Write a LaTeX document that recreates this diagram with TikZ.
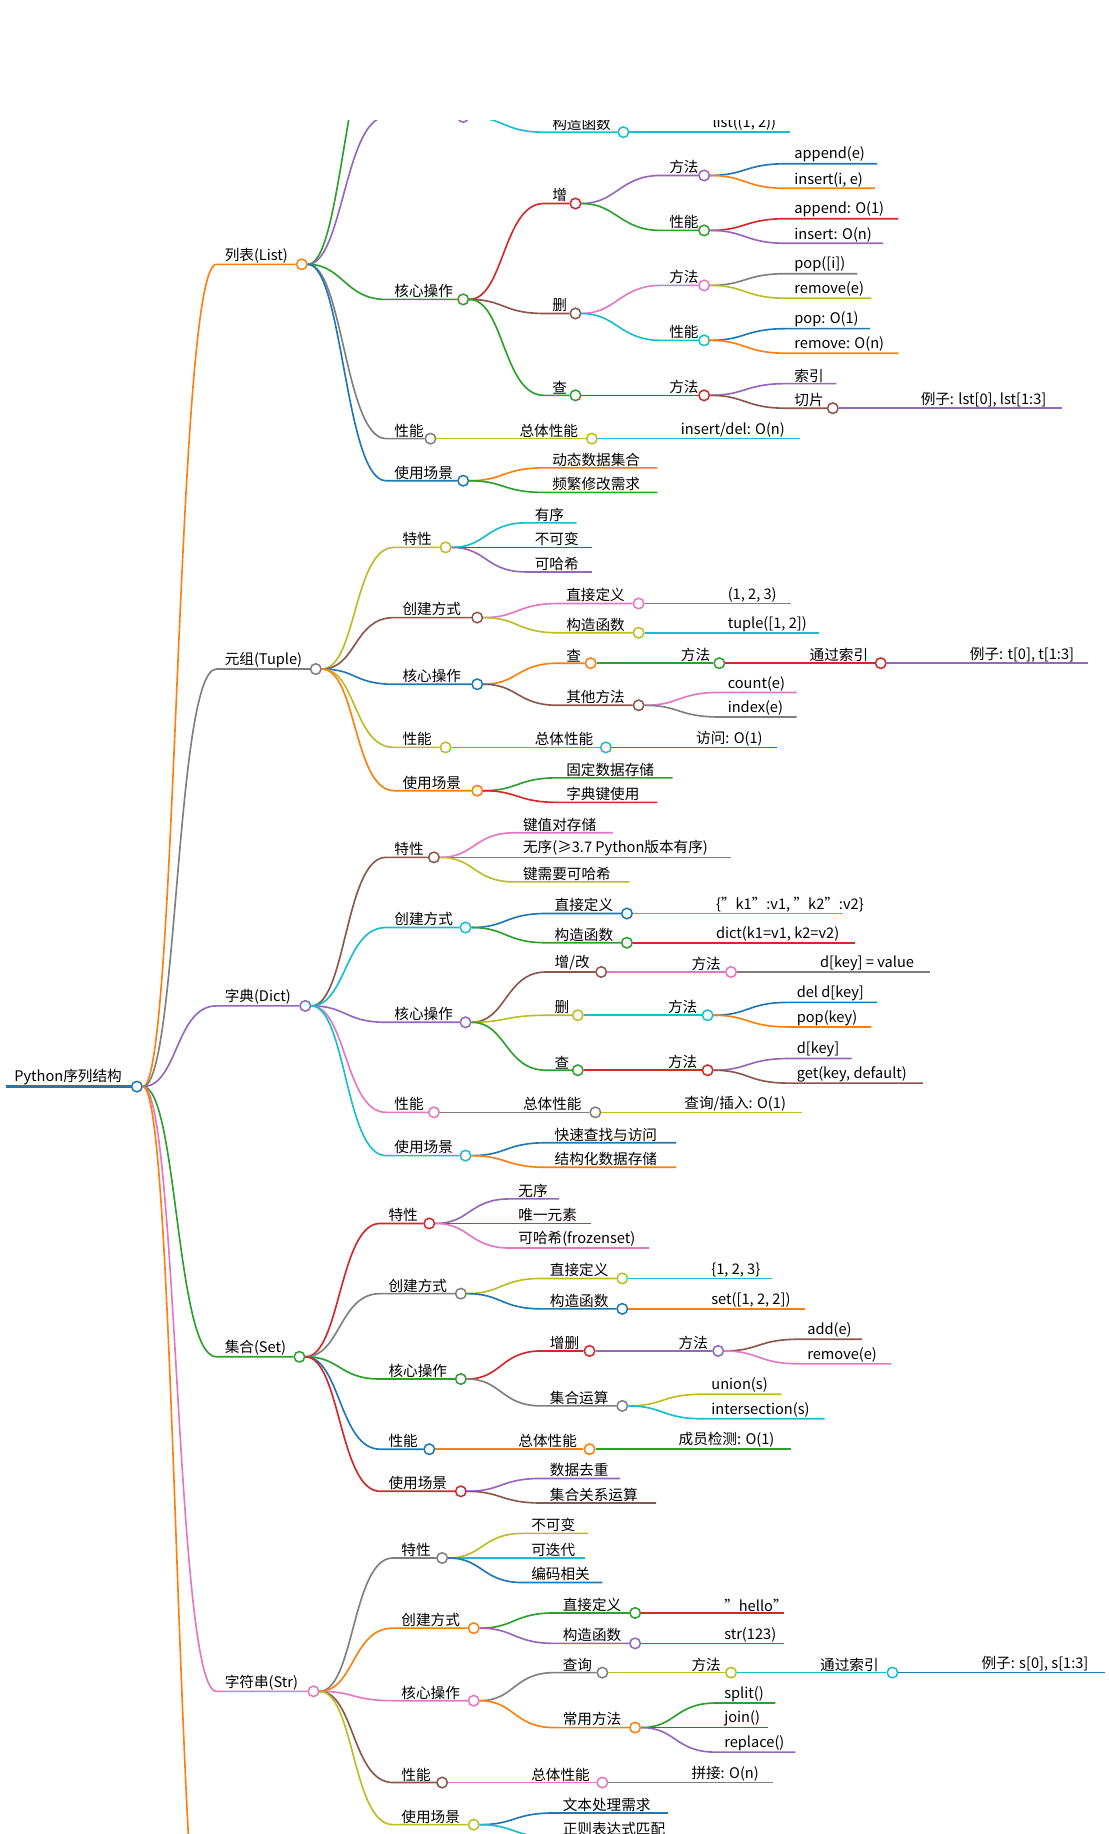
\documentclass[tikz,border=0pt]{standalone}
\usepackage{fontspec}
\setmainfont{Noto Sans CJK SC}
\usetikzlibrary{positioning}

\definecolor{cblue}{HTML}{1F77B4}
\definecolor{corange}{HTML}{FF7F0E}
\definecolor{cgreen}{HTML}{2CA02C}
\definecolor{cred}{HTML}{D62728}
\definecolor{cpurple}{HTML}{9467BD}
\definecolor{cbrown}{HTML}{8C564B}
\definecolor{cpink}{HTML}{E377C2}
\definecolor{cgray}{HTML}{7F7F7F}
\definecolor{colive}{HTML}{BCBD22}
\definecolor{ccyan}{HTML}{17BECF}

\tikzset{
  branch/.style={line width=1.4pt},
  dot/.style={circle,fill=white,line width=1.3pt,inner sep=0pt,minimum size=9pt},
  label/.style={anchor=south west,inner sep=1pt,font=\fontsize{12.5}{13}\selectfont}
}

% inner node: parent, name, colour, line start, line end, y, text
\newcommand\mmnode[7]{%
  \coordinate (#2-s) at (#4,#6);
  \node[dot,draw=#3] (#2) at (#5,#6) {};
  \draw[branch,#3] (#1) .. controls +(35,0) and +(-35,0) .. (#2-s) -- (#2);
  \node[label] (#2-t) at ([xshift=6pt]#2-s) {#7};}
% leaf: parent, name, colour, line start, line end, y, text
\newcommand\mmleaf[7]{%
  \coordinate (#2-s) at (#4,#6);
  \coordinate (#2) at (#5,#6);
  \draw[branch,#3] (#1) .. controls +(35,0) and +(-35,0) .. (#2-s) -- (#2);
  \node[label] (#2-t) at ([xshift=6pt]#2-s) {#7};}

\begin{document}
\begin{tikzpicture}[x=1pt,y=-1pt]
\useasboundingbox[fill=white] (0,0) rectangle (948,1568);
\clip (0,103) rectangle (948,1568);

% root
\coordinate (root-s) at (5,929);
\node[dot,draw=cblue] (root) at (117,929) {};
\draw[cblue,line width=2.6pt] (root-s) -- (root);
\node[label] (root-t) at ([xshift=6pt]root-s) {Python序列结构};

% level 1
\mmnode{root}{list}{corange}{185}{258}{226}{列表(List)}
\mmnode{root}{tuple}{cgray}{185}{270}{572}{元组(Tuple)}
\mmnode{root}{dict}{cpurple}{185}{261}{860}{字典(Dict)}
\mmnode{root}{set}{cgreen}{185}{256}{1160}{集合(Set)}
\mmnode{root}{str}{cpink}{185}{268}{1446}{字符串(Str)}
\mmnode{root}{more}{corange}{185}{258}{1760}{}

% list
\mmnode{list}{l1}{cgreen}{330}{371}{20}{特性}
\mmnode{list}{l2}{cpurple}{330}{396}{100}{创建方式}
\mmnode{l2}{l21}{cpink}{465}{533}{75}{直接定义}
\mmleaf{l21}{l21a}{cgray}{602}{660}{75}{[1, 2]}
\mmnode{l2}{l22}{ccyan}{465}{533}{113}{构造函数}
\mmleaf{l22}{l22a}{ccyan}{602}{675}{113}{list((1, 2))}
\mmnode{list}{l3}{cgreen}{330}{396}{256}{核心操作}
\mmnode{l3}{l31}{cred}{465}{492}{174}{增}
\mmnode{l31}{l311}{cpurple}{565}{602}{150}{方法}
\mmleaf{l311}{l311a}{cblue}{672}{750}{140}{append(e)}
\mmleaf{l311}{l311b}{corange}{672}{748}{161}{insert(i, e)}
\mmnode{l31}{l312}{cgreen}{565}{602}{197}{性能}
\mmleaf{l312}{l312a}{cred}{672}{768}{187}{append: O(1)}
\mmleaf{l312}{l312b}{cpurple}{672}{755}{208}{insert: O(n)}
\mmnode{l3}{l32}{cbrown}{465}{492}{268}{删}
\mmnode{l32}{l321}{cpink}{565}{602}{244}{方法}
\mmleaf{l321}{l321a}{cgray}{672}{733}{234}{pop([i])}
\mmleaf{l321}{l321b}{colive}{672}{745}{255}{remove(e)}
\mmnode{l32}{l322}{ccyan}{565}{602}{291}{性能}
\mmleaf{l322}{l322a}{cblue}{672}{744}{281}{pop: O(1)}
\mmleaf{l322}{l322b}{corange}{672}{768}{302}{remove: O(n)}
\mmnode{l3}{l33}{cgreen}{465}{492}{338}{查}
\mmnode{l33}{l331}{cred}{565}{602}{338}{方法}
\mmleaf{l331}{l331a}{cpurple}{672}{715}{328}{索引}
\mmnode{l331}{l331b}{cbrown}{672}{712}{349}{切片}
\mmleaf{l331b}{l331c}{cpurple}{780}{908}{349}{例子: lst[0], lst[1:3]}
\mmnode{list}{l4}{cgray}{330}{368}{375}{性能}
\mmnode{l4}{l41}{colive}{437}{506}{375}{总体性能}
\mmleaf{l41}{l41a}{ccyan}{575}{684}{375}{insert/del: O(n)}
\mmnode{list}{l5}{cblue}{330}{396}{411}{使用场景}
\mmleaf{l5}{l51}{corange}{465}{562}{400}{动态数据集合}
\mmleaf{l5}{l52}{cgreen}{465}{562}{421}{频繁修改需求}

% tuple
\mmnode{tuple}{t1}{colive}{337}{381}{468}{特性}
\mmleaf{t1}{t11}{ccyan}{450}{493}{447}{有序}
\mmleaf{t1}{t12}{cred}{450}{506}{468}{不可变}
\mmleaf{t1}{t13}{cpurple}{450}{506}{489}{可哈希}
\mmnode{tuple}{t2}{cbrown}{337}{408}{528}{创建方式}
\mmnode{t2}{t21}{cpink}{477}{546}{516}{直接定义}
\mmleaf{t21}{t21a}{cgray}{615}{676}{516}{(1, 2, 3)}
\mmnode{t2}{t22}{colive}{477}{546}{541}{构造函数}
\mmleaf{t22}{t22a}{ccyan}{615}{700}{541}{tuple([1, 2])}
\mmnode{tuple}{t3}{cblue}{337}{408}{585}{核心操作}
\mmnode{t3}{t31}{corange}{477}{505}{567}{查}
\mmnode{t31}{t311}{cgreen}{575}{615}{567}{方法}
\mmnode{t311}{t312}{cred}{685}{753}{567}{通过索引}
\mmleaf{t312}{t313}{cpurple}{822}{930}{567}{例子: t[0], t[1:3]}
\mmnode{t3}{t32}{cbrown}{477}{546}{603}{其他方法}
\mmleaf{t32}{t32a}{cpink}{615}{681}{592}{count(e)}
\mmleaf{t32}{t32b}{cgray}{615}{681}{613}{index(e)}
\mmnode{tuple}{t4}{colive}{337}{381}{639}{性能}
\mmnode{t4}{t41}{ccyan}{450}{518}{639}{总体性能}
\mmleaf{t41}{t41a}{cblue}{588}{664}{639}{访问: O(1)}
\mmnode{tuple}{t5}{corange}{337}{408}{676}{使用场景}
\mmleaf{t5}{t51}{cgreen}{477}{575}{665}{固定数据存储}
\mmleaf{t5}{t52}{cred}{477}{562}{686}{字典键使用}

% dict
\mmnode{dict}{d1}{cbrown}{330}{371}{733}{特性}
\mmleaf{d1}{d11}{cpink}{440}{524}{712}{键值对存储}
\mmleaf{d1}{d12}{cgray}{440}{625}{733}{无序(≥3.7 Python版本有序)}
\mmleaf{d1}{d13}{colive}{440}{538}{754}{键需要可哈希}
\mmnode{dict}{d2}{ccyan}{330}{398}{793}{创建方式}
\mmnode{d2}{d21}{cblue}{467}{536}{781}{直接定义}
\mmleaf{d21}{d21a}{corange}{605}{721}{781}{\{"k1":v1, "k2":v2\}}
\mmnode{d2}{d22}{cgreen}{467}{536}{806}{构造函数}
\mmleaf{d22}{d22a}{cred}{605}{731}{806}{dict(k1=v1, k2=v2)}
\mmnode{dict}{d3}{cpurple}{330}{398}{874}{核心操作}
\mmnode{d3}{d31}{cbrown}{467}{514}{831}{增/改}
\mmnode{d31}{d311}{cpink}{584}{625}{831}{方法}
\mmleaf{d311}{d311a}{cgray}{694}{795}{831}{d[key] = value}
\mmnode{d3}{d32}{colive}{467}{494}{868}{删}
\mmnode{d32}{d321}{ccyan}{564}{605}{868}{方法}
\mmleaf{d321}{d321a}{cblue}{674}{750}{857}{del d[key]}
\mmleaf{d321}{d321b}{corange}{674}{745}{878}{pop(key)}
\mmnode{d3}{d33}{cgreen}{467}{494}{915}{查}
\mmnode{d33}{d331}{cred}{564}{605}{915}{方法}
\mmleaf{d331}{d331a}{cpurple}{674}{728}{905}{d[key]}
\mmleaf{d331}{d331b}{cbrown}{674}{789}{926}{get(key, default)}
\mmnode{dict}{d4}{cpink}{330}{371}{951}{性能}
\mmnode{d4}{d41}{cgray}{440}{509}{951}{总体性能}
\mmleaf{d41}{d41a}{colive}{578}{686}{951}{查询/插入: O(1)}
\mmnode{dict}{d5}{ccyan}{330}{398}{988}{使用场景}
\mmleaf{d5}{d51}{cblue}{467}{578}{977}{快速查找与访问}
\mmleaf{d5}{d52}{corange}{467}{578}{998}{结构化数据存储}

% set
\mmnode{set}{s1}{cred}{325}{367}{1046}{特性}
\mmleaf{s1}{s11}{cpurple}{436}{478}{1025}{无序}
\mmleaf{s1}{s12}{cbrown}{436}{505}{1046}{唯一元素}
\mmleaf{s1}{s13}{cpink}{436}{555}{1067}{可哈希(frozenset)}
\mmnode{set}{s2}{cgray}{325}{394}{1106}{创建方式}
\mmnode{s2}{s21}{colive}{463}{532}{1093}{直接定义}
\mmleaf{s21}{s21a}{ccyan}{601}{660}{1093}{\{1, 2, 3\}}
\mmnode{s2}{s22}{cblue}{463}{532}{1119}{构造函数}
\mmleaf{s22}{s22a}{corange}{601}{688}{1119}{set([1, 2, 2])}
\mmnode{set}{s3}{cgreen}{325}{394}{1179}{核心操作}
\mmnode{s3}{s31}{cred}{463}{504}{1155}{增删}
\mmnode{s31}{s311}{cpurple}{573}{614}{1155}{方法}
\mmleaf{s311}{s311a}{cbrown}{683}{737}{1145}{add(e)}
\mmleaf{s311}{s311b}{cpink}{683}{762}{1166}{remove(e)}
\mmnode{s3}{s32}{cgray}{463}{532}{1202}{集合运算}
\mmleaf{s32}{s32a}{colive}{601}{668}{1192}{union(s)}
\mmleaf{s32}{s32b}{ccyan}{601}{705}{1213}{intersection(s)}
\mmnode{set}{s4}{cblue}{325}{367}{1239}{性能}
\mmnode{s4}{s41}{corange}{436}{504}{1239}{总体性能}
\mmleaf{s41}{s41a}{cgreen}{573}{676}{1239}{成员检测: O(1)}
\mmnode{set}{s5}{cred}{325}{394}{1275}{使用场景}
\mmleaf{s5}{s51}{cpurple}{463}{530}{1264}{数据去重}
\mmleaf{s5}{s52}{cbrown}{463}{561}{1285}{集合关系运算}

% str
\mmnode{str}{r1}{cgray}{336}{378}{1332}{特性}
\mmleaf{r1}{r11}{colive}{447}{503}{1311}{不可变}
\mmleaf{r1}{r12}{ccyan}{447}{500}{1332}{可迭代}
\mmleaf{r1}{r13}{cblue}{447}{515}{1353}{编码相关}
\mmnode{str}{r2}{corange}{336}{405}{1392}{创建方式}
\mmnode{r2}{r21}{cgreen}{474}{543}{1379}{直接定义}
\mmleaf{r21}{r21a}{cred}{612}{670}{1379}{"hello"}
\mmnode{r2}{r22}{cpurple}{474}{543}{1405}{构造函数}
\mmleaf{r22}{r22a}{cbrown}{612}{670}{1405}{str(123)}
\mmnode{str}{r3}{cpink}{336}{405}{1454}{核心操作}
\mmnode{r3}{r31}{cgray}{474}{515}{1430}{查询}
\mmnode{r31}{r311}{colive}{584}{625}{1430}{方法}
\mmnode{r311}{r312}{ccyan}{694}{763}{1430}{通过索引}
\mmleaf{r312}{r313}{cblue}{832}{945}{1430}{例子: s[0], s[1:3]}
\mmnode{r3}{r32}{corange}{474}{543}{1477}{常用方法}
\mmleaf{r32}{r32a}{cgreen}{612}{663}{1456}{split()}
\mmleaf{r32}{r32b}{cred}{612}{657}{1477}{join()}
\mmleaf{r32}{r32c}{cpurple}{612}{680}{1498}{replace()}
\mmnode{str}{r4}{cbrown}{336}{378}{1524}{性能}
\mmnode{r4}{r41}{cpink}{447}{515}{1524}{总体性能}
\mmleaf{r41}{r41a}{cgray}{584}{661}{1524}{拼接: O(n)}
\mmnode{str}{r5}{colive}{336}{405}{1560}{使用场景}
\mmleaf{r5}{r51}{cblue}{474}{571}{1550}{文本处理需求}
\mmleaf{r5}{r52}{ccyan}{474}{575}{1571}{正则表达式匹配}
\end{tikzpicture}
\end{document}
